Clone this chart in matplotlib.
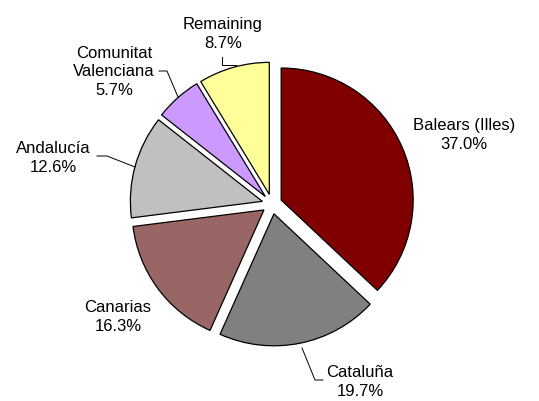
import matplotlib
matplotlib.use("Agg")
import matplotlib.pyplot as plt

# datos del gráfico
regions = ["Balears (Illes)", "Cataluña", "Canarias", "Andalucía",
           "Comunitat\nValenciana", "Remaining"]
shares = [37.0, 19.7, 16.3, 12.6, 5.7, 8.7]
colors = ["#800000", "#808080", "#996666", "#c0c0c0", "#cc99ff", "#ffff99"]

W, H = 539, 401
CX, CY, R = 272, 204, 132          # centro y radio en píxeles (y hacia abajo)
EXPLODE = 10                       # desplazamiento de cada porción, píxeles

# posición del texto (centro del bloque) y línea guía, en píxeles
label_pos = [(464, 135), (360, 382), (118, 317), (53, 158), (114, 72), (223, 34)]
leaders = [
    None,
    [(302, 348), (315, 380), (323, 380)],
    None,
    [(97, 156), (107, 156), (135, 167)],
    [(159, 71), (167, 71), (178, 97)],
    [(222, 57), (222, 65), (236, 65)],
]

plt.rcParams["font.family"] = ["Liberation Sans", "DejaVu Sans"]

fig = plt.figure(figsize=(W / 100, H / 100), dpi=100)
fig.patch.set_facecolor("white")
ax = fig.add_axes([0, 0, 1, 1])

# en pie(), explode se mide en unidades de datos (aquí píxeles)
ax.pie(shares, colors=colors, startangle=90, counterclock=False,
       center=(CX, H - CY), radius=R, explode=[EXPLODE] * len(shares),
       wedgeprops={"edgecolor": "black", "linewidth": 0.9},
       frame=True)
ax.set_xlim(0, W)
ax.set_ylim(0, H)
ax.set_aspect("equal")
ax.axis("off")

for name, val, (px, py), ld in zip(regions, shares, label_pos, leaders):
    ax.text(px, H - py, f"{name}\n{val:.1f}%", ha="center", va="center",
            fontsize=12, linespacing=1.3, color="black")
    if ld:
        xs = [p[0] for p in ld]
        ys = [H - p[1] for p in ld]
        ax.plot(xs, ys, color="black", linewidth=0.7)

fig.savefig("out.png", dpi=100, facecolor="white")
